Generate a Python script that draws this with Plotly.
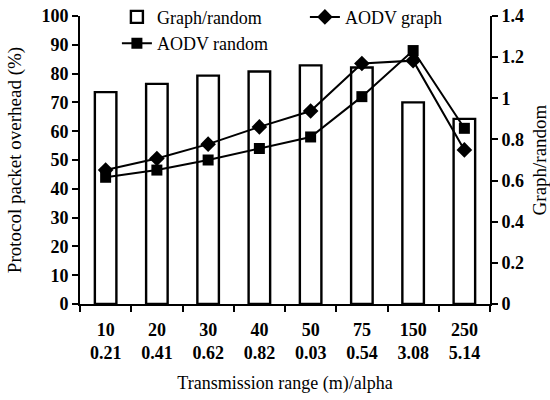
import plotly.graph_objects as go

range_labels = ["10", "20", "30", "40", "50", "75", "150", "250"]
alpha_labels = ["0.21", "0.41", "0.62", "0.82", "0.03", "0.54", "3.08", "5.14"]
graph_random = [1.03, 1.07, 1.11, 1.13, 1.16, 1.15, 0.98, 0.90]
aodv_graph = [46.5, 50.5, 55.5, 61.5, 67.0, 83.5, 84.5, 53.5]
aodv_random = [44.0, 46.5, 50.0, 54.0, 58.0, 72.0, 88.0, 61.0]

categories = [f"{r}<br>{a}" for r, a in zip(range_labels, alpha_labels)]

FONT = "Liberation Serif"

fig = go.Figure()
fig.add_trace(go.Bar(
    x=categories, y=graph_random, name="Graph/random", yaxis="y",
    marker=dict(color="white", line=dict(color="black", width=2.4)),
    width=0.42,
))
fig.add_trace(go.Scatter(
    x=categories, y=aodv_graph, name="AODV graph", yaxis="y2",
    mode="lines+markers",
    line=dict(color="black", width=2),
    marker=dict(symbol="diamond", size=12, color="black"),
))
fig.add_trace(go.Scatter(
    x=categories, y=aodv_random, name="AODV random", yaxis="y2",
    mode="lines+markers",
    line=dict(color="black", width=2),
    marker=dict(symbol="square", size=11, color="black"),
))

axis_common = dict(
    showline=True, linecolor="black", linewidth=2,
    ticks="outside", ticklen=6, tickwidth=2, tickcolor="black",
    showgrid=False, zeroline=False,
    tickfont=dict(family=FONT, size=18, color="black", weight="bold"),
)

fig.update_layout(
    width=550, height=400,
    margin=dict(l=80, r=60, t=16, b=96, autoexpand=False),
    paper_bgcolor="white", plot_bgcolor="white",
    font=dict(family=FONT, size=18, color="black"),
    showlegend=True,
    legend=dict(
        orientation="h", x=0.09, y=1.06, xanchor="left", yanchor="top",
        entrywidth=143, entrywidthmode="pixels",
        bgcolor="rgba(0,0,0,0)", font=dict(family=FONT, size=18),
        tracegroupgap=0,
    ),
    xaxis=dict(
        type="category", range=[-0.5, 7.5], tickson="boundaries",
        ticklabelstandoff=8,
        title=dict(text="Transmission range (m)/alpha", font=dict(family=FONT, size=18), standoff=14),
        **axis_common,
    ),
    yaxis=dict(
        side="right", range=[0, 1.4], dtick=0.2, anchor="x",
        title=dict(text="Graph/random", font=dict(family=FONT, size=19)),
        **axis_common,
    ),
    yaxis2=dict(
        side="left", overlaying="y", range=[0, 100], dtick=10, anchor="x",
        title=dict(text="Protocol packet overhead (%)", font=dict(family=FONT, size=19)),
        **axis_common,
    ),
)

fig.write_html("out.html")
